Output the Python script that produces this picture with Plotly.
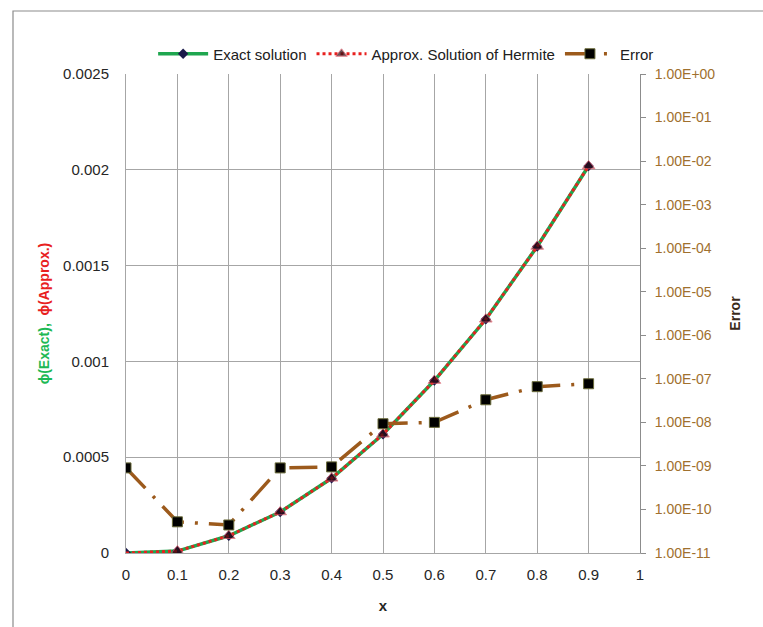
import plotly.graph_objects as go

# x grid points
x = [0, 0.1, 0.2, 0.3, 0.4, 0.5, 0.6, 0.7, 0.8, 0.9]

# phi values (left axis)
phi_exact = [0.0, 0.00001, 0.00009, 0.000214, 0.00039, 0.00062, 0.0009, 0.00122, 0.0016, 0.00202]
phi_approx = [0.0, 0.00001, 0.00009, 0.000214, 0.00039, 0.00062, 0.0009, 0.00122, 0.0016, 0.00202]

# absolute error (right, logarithmic axis)
error = [9.0e-10, 5.2e-11, 4.4e-11, 9.0e-10, 9.5e-10, 9.3e-9, 1.0e-8, 3.3e-8, 6.6e-8, 7.7e-8]

# tick labels
x_ticks = [0, 0.1, 0.2, 0.3, 0.4, 0.5, 0.6, 0.7, 0.8, 0.9, 1]
x_tick_text = ["0", "0.1", "0.2", "0.3", "0.4", "0.5", "0.6", "0.7", "0.8", "0.9", "1"]
y_ticks = [0, 0.0005, 0.001, 0.0015, 0.002, 0.0025]
y_tick_text = ["0", "0.0005", "0.001", "0.0015", "0.002", "0.0025"]
err_ticks = [1e-11, 1e-10, 1e-9, 1e-8, 1e-7, 1e-6, 1e-5, 1e-4, 1e-3, 1e-2, 1e-1, 1e0]
err_tick_text = ["1.00E-11", "1.00E-10", "1.00E-09", "1.00E-08", "1.00E-07", "1.00E-06",
                 "1.00E-05", "1.00E-04", "1.00E-03", "1.00E-02", "1.00E-01", "1.00E+00"]

GREEN = "#1FA64F"
RED = "#E8201E"
BROWN = "#9C5A1C"
ERR_LABEL = "#A0702E"
GRID = "#A6A6A6"
FONT = "Liberation Sans"

fig = go.Figure()

fig.add_trace(go.Scatter(
    x=x, y=phi_exact, name="Exact solution", mode="lines+markers",
    line=dict(color=GREEN, width=3.5),
    marker=dict(symbol="diamond", size=8, color="#1A1A4A", line=dict(color="#1A1A4A", width=0)),
))
fig.add_trace(go.Scatter(
    x=x, y=phi_approx, name="Approx. Solution of Hermite", mode="lines+markers",
    line=dict(color=RED, width=3, dash="3px,3px"),
    marker=dict(symbol="triangle-up", size=[0] + [11] * (len(x) - 1), color="#2A0A10",
                line=dict(color="#E05060", width=1)),
))
fig.add_trace(go.Scatter(
    x=x, y=error, name="Error", mode="lines+markers", yaxis="y2",
    line=dict(color=BROWN, width=3.5, dash="28px,11px,3px,11px"),
    marker=dict(symbol="square", size=10, color="#000000", line=dict(color="#6B6B3A", width=1)),
))

# outer chart frame
fig.add_shape(type="rect", xref="paper", yref="paper",
              x0=(13 - 126) / 514, x1=2.0, y0=-1.0, y1=1 + (74 - 11) / 479,
              line=dict(color="#8C8C8C", width=1.2), fillcolor="rgba(0,0,0,0)", layer="below")

fig.update_layout(
    width=763, height=627,
    margin=dict(l=126, r=123, t=74, b=74),
    paper_bgcolor="white", plot_bgcolor="white",
    font=dict(family=FONT, size=15, color="#404040"),
    showlegend=True,
    legend=dict(orientation="h", x=0.545, xanchor="center", y=1 + (74 - 54) / 479, yanchor="middle",
                font=dict(family=FONT, size=15, color="#202020"),
                bgcolor="rgba(0,0,0,0)", itemwidth=50, traceorder="normal"),
    xaxis=dict(range=[0, 1], tickvals=x_ticks, ticktext=x_tick_text,
               showgrid=True, gridcolor=GRID, gridwidth=1,
               showline=True, linecolor=GRID, linewidth=1, mirror=False,
               ticks="", zeroline=False, ticklabelstandoff=8,
               tickfont=dict(family=FONT, size=15, color="#262626"),
               title=dict(text="<b>x</b>", font=dict(family=FONT, size=15, color="#262626"), standoff=18)),
    yaxis=dict(range=[0, 0.0025], tickvals=y_ticks, ticktext=y_tick_text,
               showgrid=True, gridcolor=GRID, gridwidth=1,
               showline=True, linecolor=GRID, linewidth=1,
               ticks="", zeroline=False, ticklabelstandoff=13,
               tickfont=dict(family=FONT, size=15, color="#262626"),
               title=dict(text='<b><span style="color:#1DB954">\u03d5(Exact),</span>  '
                               '<span style="color:#E8201E">\u03d5(Approx.)</span></b>',
                          font=dict(family=FONT, size=14), standoff=10)),
    yaxis2=dict(type="log", range=[-11, 0], overlaying="y", side="right",
                tickvals=err_ticks, ticktext=err_tick_text,
                showgrid=False, showline=True, linecolor="#8C8C8C", linewidth=1,
                ticks="outside", ticklen=5, tickcolor="#8C8C8C", zeroline=False,
                ticklabelstandoff=6,
                tickfont=dict(family=FONT, size=14, color=ERR_LABEL),
                title=dict(text="<b>Error</b>", font=dict(family=FONT, size=14, color="#3A2A1A"),
                           standoff=15)),
)

fig.write_html("out.html")
